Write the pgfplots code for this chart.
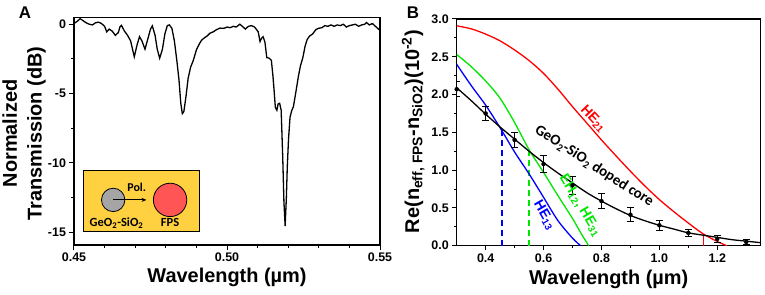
\documentclass[border=0pt]{standalone}
\usepackage{pgfplots}
\pgfplotsset{compat=1.18}
\usepackage{fontspec}
\setmainfont{Liberation Sans}
\newfontfamily\insetfont{Carlito}
\usetikzlibrary{arrows.meta}
\definecolor{insetyellow}{RGB}{255,208,64}
\definecolor{fpsred}{RGB}{255,85,85}
\definecolor{coregray}{RGB}{165,165,165}
\definecolor{mygreen}{RGB}{0,230,0}
\definecolor{myblue}{RGB}{0,0,255}

\begin{document}
\begin{tikzpicture}
\path[use as bounding box] (0bp,0bp) rectangle (765bp,295bp);
\pgfplotsset{
  every axis/.append style={
    scale only axis,
    axis line style={line width=1.3bp},
    tick style={line width=1bp, black},
    tick align=outside,
    major tick length=4.5bp, minor tick length=2.5bp,
    xtick pos=bottom, ytick pos=left,
    ticklabel style={font=\bfseries\fontsize{12.5}{14}\selectfont},
    /pgf/number format/assume math mode=true,
    label style={font=\bfseries\fontsize{20}{25}\selectfont},
  }
}
\node[font=\bfseries\fontsize{17}{20}\selectfont] at (25bp,282bp) {A};
\node[font=\bfseries\fontsize{17}{20}\selectfont] at (413bp,282bp) {B};

% ---------------- Panel A ----------------
\begin{axis}[at={(74bp,50bp)}, anchor=south west, width=306bp, height=227.7bp,
  xmin=0.45, xmax=0.55, ymin=-15.92, ymax=0.5,
  xtick={0.45,0.50,0.55}, minor x tick num=4,
  ytick={-15,-10,-5,0}, minor y tick num=1,
  xticklabel style={/pgf/number format/.cd, fixed, fixed zerofill, precision=2},
  xlabel={Wavelength (µm)},
  ylabel={Normalized\\Transmission (dB)},
  xlabel style={at={(axis description cs:0.5,-0.165)}, anchor=base},
  ylabel style={at={(axis description cs:-0.163,0.49)}, anchor=center, align=center},
  clip=true]
\addplot[black, line width=1.3bp] coordinates {
(0.4500,0.05) (0.4510,0.20) (0.4520,0.40) (0.4530,0.25) (0.4540,0.10)
(0.4550,0.00) (0.4560,-0.05) (0.4570,0.10) (0.4580,0.15) (0.4590,0.05)
(0.4600,-0.15) (0.4607,-0.55) (0.4615,-0.35) (0.4625,-0.50) (0.4635,-0.80)
(0.4645,-0.60) (0.4650,-0.20) (0.4655,-0.08) (0.4665,-0.50) (0.4675,-0.80)
(0.4685,-1.20) (0.4697,-2.35) (0.4706,-1.50) (0.4714,-0.90) (0.4722,-1.20)
(0.4732,-1.80) (0.4742,-1.00) (0.4750,-0.35) (0.4756,-0.12) (0.4765,-0.80)
(0.4772,-1.80) (0.4780,-2.45) (0.4789,-1.80) (0.4797,-0.70) (0.4805,-0.10)
(0.4812,-0.05) (0.4820,-0.30) (0.4828,-1.20) (0.4836,-2.60) (0.4843,-4.00)
(0.4849,-5.70) (0.4854,-6.45) (0.4859,-6.30) (0.4866,-5.20) (0.4873,-3.90)
(0.4881,-3.10) (0.4890,-2.60) (0.4900,-1.85) (0.4910,-1.40) (0.4917,-1.15)
(0.4925,-1.00) (0.4935,-0.85) (0.4944,-0.65) (0.4955,-0.55) (0.4965,-0.40)
(0.4977,-0.28) (0.4990,-0.30) (0.5000,-0.20) (0.5010,-0.25) (0.5021,-0.15)
(0.5030,-0.20) (0.5042,0.00) (0.5050,-0.15) (0.5060,-0.35) (0.5070,-0.15)
(0.5080,-0.10) (0.5090,-0.20) (0.5097,-0.40) (0.5102,-0.55) (0.5108,-1.25)
(0.5113,-1.00) (0.5118,-0.90) (0.5124,-1.30) (0.5130,-2.40) (0.5138,-2.45)
(0.5145,-2.60) (0.5150,-3.70) (0.5154,-4.80) (0.5158,-6.00) (0.5163,-6.20)
(0.5167,-5.75) (0.5172,-5.70) (0.5177,-6.20) (0.5182,-9.50) (0.5186,-12.80)
(0.5190,-14.55) (0.5194,-12.50) (0.5197,-10.30) (0.5201,-8.30) (0.5206,-6.70)
(0.5212,-6.20) (0.5217,-5.95) (0.5225,-4.90) (0.5233,-3.80) (0.5240,-3.00)
(0.5248,-2.40) (0.5255,-1.60) (0.5262,-1.10) (0.5270,-0.85) (0.5280,-0.70)
(0.5290,-0.40) (0.5298,-0.30) (0.5310,-0.25) (0.5320,-0.10) (0.5330,-0.15)
(0.5340,-0.05) (0.5350,-0.15) (0.5360,-0.05) (0.5370,-0.10) (0.5380,0.00)
(0.5390,-0.20) (0.5400,-0.10) (0.5410,-0.05) (0.5420,0.00) (0.5430,-0.15)
(0.5440,-0.05) (0.5450,0.00) (0.5456,0.12) (0.5465,-0.05) (0.5475,0.05)
(0.5485,-0.15) (0.5495,-0.35) (0.5500,-0.45)
};
% inset schematic
\draw[black, line width=0.8bp, fill=insetyellow] (rel axis cs:0.0304,0.0584) rectangle (rel axis cs:0.4095,0.329);
\fill[coregray, draw=black, line width=0.8bp] (rel axis cs:0.128,0.198) circle[radius=11.7bp];
\fill[fpsred, draw=black, line width=0.8bp] (rel axis cs:0.314,0.198) circle[radius=16.7bp];
\draw[black, line width=0.9bp, -{Stealth[length=5bp,width=4bp]}] (rel axis cs:0.128,0.198) -- (rel axis cs:0.237,0.198);
\node[font=\insetfont\bfseries\fontsize{12}{14}\selectfont] at (rel axis cs:0.205,0.252) {Pol.};
\node[font=\insetfont\bfseries\fontsize{12.5}{14}\selectfont] at (rel axis cs:0.139,0.097) {GeO\textsubscript{2}-SiO\textsubscript{2}};
\node[font=\insetfont\bfseries\fontsize{12.5}{14}\selectfont] at (rel axis cs:0.314,0.097) {FPS};
\end{axis}

% ---------------- Panel B ----------------
\begin{axis}[at={(456.7bp,49.3bp)}, anchor=south west, width=304bp, height=226.7bp,
  xmin=0.3, xmax=1.35, ymin=0, ymax=3,
  xtick={0.4,0.6,0.8,1.0,1.2}, minor x tick num=1,
  ytick={0,0.5,1.0,1.5,2.0,2.5,3.0}, minor y tick num=1,
  xticklabel style={/pgf/number format/.cd, fixed, fixed zerofill, precision=1},
  yticklabel style={/pgf/number format/.cd, fixed, fixed zerofill, precision=1},
  xlabel={Wavelength (µm)},
  ylabel={Re(n\textsubscript{eff, FPS}-n\textsubscript{SiO2})(10\textsuperscript{-2})},
  xlabel style={at={(axis description cs:0.5,-0.173)}, anchor=base},
  ylabel style={at={(axis description cs:-0.143,0.503)}, anchor=center},
  clip=true]
% cut-off markers
\addplot[color=myblue, line width=1.5bp, dash pattern=on 6bp off 4bp] coordinates {(0.456,0) (0.456,1.55)};
\addplot[color=mygreen, line width=1.5bp, dash pattern=on 6bp off 4bp] coordinates {(0.55,0) (0.55,1.25)};
\addplot[color=red, line width=1.4bp] coordinates {(1.152,0) (1.152,0.16)};
% HE21 (red)
\addplot[red, line width=1.3bp, smooth] coordinates {
(0.30,2.91) (0.35,2.87) (0.40,2.80) (0.45,2.71) (0.50,2.59) (0.55,2.45)
(0.60,2.28) (0.65,2.07) (0.70,1.84) (0.75,1.62) (0.80,1.40) (0.85,1.19)
(0.90,0.985) (0.95,0.79) (1.00,0.61) (1.05,0.45) (1.10,0.30) (1.15,0.16)
(1.20,0.055) (1.233,0.0)
};
% EH12, HE31 (green)
\addplot[mygreen, line width=1.3bp, smooth] coordinates {
(0.30,2.53) (0.35,2.37) (0.40,2.18) (0.45,1.95) (0.50,1.63) (0.55,1.27)
(0.60,0.97) (0.65,0.66) (0.70,0.36) (0.73,0.16) (0.756,0.0)
};
% HE13 (blue)
\addplot[myblue, line width=1.3bp, smooth] coordinates {
(0.30,2.40) (0.35,2.12) (0.40,1.86) (0.45,1.56) (0.50,1.24) (0.55,0.95)
(0.60,0.64) (0.65,0.33) (0.70,0.10) (0.728,0.0)
};
% GeO2-SiO2 doped core (black curve)
\addplot[black, line width=1.3bp, smooth] coordinates {
(0.30,2.09) (0.35,1.92) (0.40,1.74) (0.45,1.57) (0.50,1.41) (0.55,1.25)
(0.60,1.10) (0.65,0.96) (0.70,0.83) (0.75,0.70) (0.80,0.59) (0.85,0.49)
(0.90,0.40) (0.95,0.33) (1.00,0.27) (1.05,0.22) (1.10,0.17) (1.15,0.14)
(1.20,0.11) (1.25,0.08) (1.30,0.06) (1.35,0.04)
};
% measured points with error bars
\addplot[black, only marks, mark=none,
  error bars/.cd, y dir=both, y explicit,
  error mark=-, error mark options={rotate=90, mark size=3.5bp, line width=0.9bp, black},
  error bar style={line width=0.9bp, black}]
coordinates {
(0.3,2.07) +- (0,0.10)
(0.4,1.75) +- (0,0.09)
(0.5,1.40) +- (0,0.10)
(0.6,1.08) +- (0,0.11)
(0.7,0.80) +- (0,0.12)
(0.8,0.59) +- (0,0.10)
(0.9,0.41) +- (0,0.09)
(1.0,0.27) +- (0,0.07)
(1.1,0.17) +- (0,0.05)
(1.2,0.09) +- (0,0.05)
(1.3,0.05) +- (0,0.03)
};
% labels
\node[red, rotate=-47, font=\bfseries\fontsize{14}{16}\selectfont] at (axis cs:0.772,1.68) {HE\textsubscript{21}};
\node[black, rotate=-32.6, font=\insetfont\bfseries\fontsize{15}{17}\selectfont] at (axis cs:0.775,1.05) {GeO\textsubscript{2}-SiO\textsubscript{2} doped core};
\node[mygreen, rotate=-59, font=\bfseries\fontsize{14}{16}\selectfont] at (axis cs:0.727,0.53) {EH\textsubscript{12}, HE\textsubscript{31}};
\node[myblue, rotate=-60, font=\bfseries\fontsize{14}{16}\selectfont] at (axis cs:0.603,0.40) {HE\textsubscript{13}};
\end{axis}
\end{tikzpicture}
\end{document}
